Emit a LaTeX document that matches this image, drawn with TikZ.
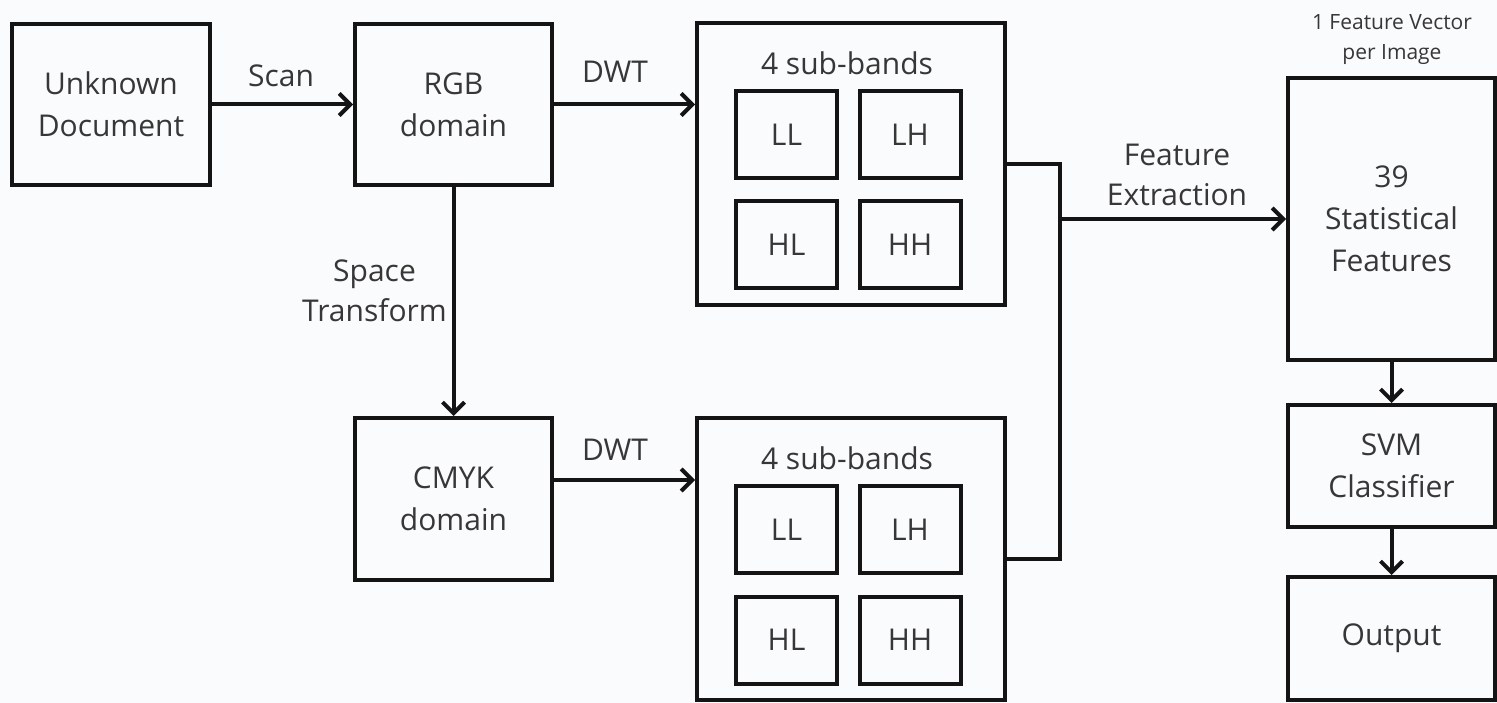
\documentclass[tikz,border=0pt]{standalone}
\usepackage{fontspec}
\setmainfont{Open Sans}
\usetikzlibrary{arrows.meta}
\definecolor{bg}{RGB}{250,251,252}
\definecolor{ink}{RGB}{20,20,20}
\begin{document}
\begin{tikzpicture}[x=1pt,y=-1pt,
  box/.style={draw=ink,line width=4pt,fill=bg,inner sep=0pt,align=center,
    font=\fontsize{30}{42}\selectfont,text=ink!85},
  lbl/.style={inner sep=0pt,align=center,font=\fontsize{30}{40}\selectfont,text=ink!85},
  conn/.style={draw=ink,line width=4pt},
  arr/.style={conn,-{Straight Barb[length=11pt,width=22pt,line width=4pt]}}]
\fill[bg] (0,0) rectangle (1497,703);
\useasboundingbox (0,0) rectangle (1497,703);
% main boxes
\node[box,minimum width=198pt,minimum height=161pt] (doc) at (111,104.5) {Unknown\\Document};
\node[box,minimum width=197pt,minimum height=161pt] (rgb) at (453.5,104.5) {RGB\\domain};
\node[box,minimum width=197pt,minimum height=162pt] (cmyk) at (453.5,499) {CMYK\\domain};
% sub-band containers
\node[box,minimum width=308pt,minimum height=282pt] (sb1) at (851,164) {};
\node[lbl] (t1) at (847,63) {4 sub-bands};
\node[box,minimum width=101pt,minimum height=87pt] (ll1) at (786.5,134.5) {LL};
\node[box,minimum width=101pt,minimum height=87pt] (lh1) at (910,134.5) {LH};
\node[box,minimum width=101pt,minimum height=87pt] (hl1) at (786.5,245) {HL};
\node[box,minimum width=101pt,minimum height=87pt] (hh1) at (910,245) {HH};
\node[box,minimum width=308pt,minimum height=282pt] (sb2) at (851,559) {};
\node[lbl] (t2) at (847,458) {4 sub-bands};
\node[box,minimum width=101pt,minimum height=87pt] (ll2) at (786.5,529.5) {LL};
\node[box,minimum width=101pt,minimum height=87pt] (lh2) at (910,529.5) {LH};
\node[box,minimum width=101pt,minimum height=87pt] (hl2) at (786.5,640) {HL};
\node[box,minimum width=101pt,minimum height=87pt] (hh2) at (910,640) {HH};
% right column
\node[box,minimum width=207pt,minimum height=282pt] (stat) at (1391.5,219) {39\\Statistical\\Features};
\node[box,minimum width=207pt,minimum height=122pt] (svm) at (1391.5,466) {SVM\\Classifier};
\node[box,minimum width=207pt,minimum height=123pt] (out) at (1391.5,638.5) {Output};
\node[lbl,font=\fontsize{21}{30}\selectfont] (fv) at (1392,40) {1 Feature Vector\\per Image};
% labels
\node[lbl] (scan) at (281,76) {Scan};
\node[lbl] (dwt1) at (615,72) {DWT};
\node[lbl] (dwt2) at (615,450) {DWT};
\node[lbl,anchor=east] (st) at (447,291) {Space\\Transform};
\node[lbl] (fe) at (1177,175) {Feature\\Extraction};
% connectors
\coordinate (j) at (1060,219);
\draw[arr] (doc.east) -- (rgb.west);
\draw[arr] (rgb.east) -- (rgb.east -| sb1.west);
\draw[arr] ([yshift=19pt]cmyk.east) -- ([yshift=19pt]cmyk.east -| sb2.west);
\draw[arr] (rgb.south) -- (cmyk.north);
\draw[conn] (sb1.east) -| (j);
\draw[conn] (sb2.east) -| (j);
\draw[arr] (j) -- (stat.west);
\draw[arr] (stat.south) -- (svm.north);
\draw[arr] (svm.south) -- (out.north);
\end{tikzpicture}
\end{document}
